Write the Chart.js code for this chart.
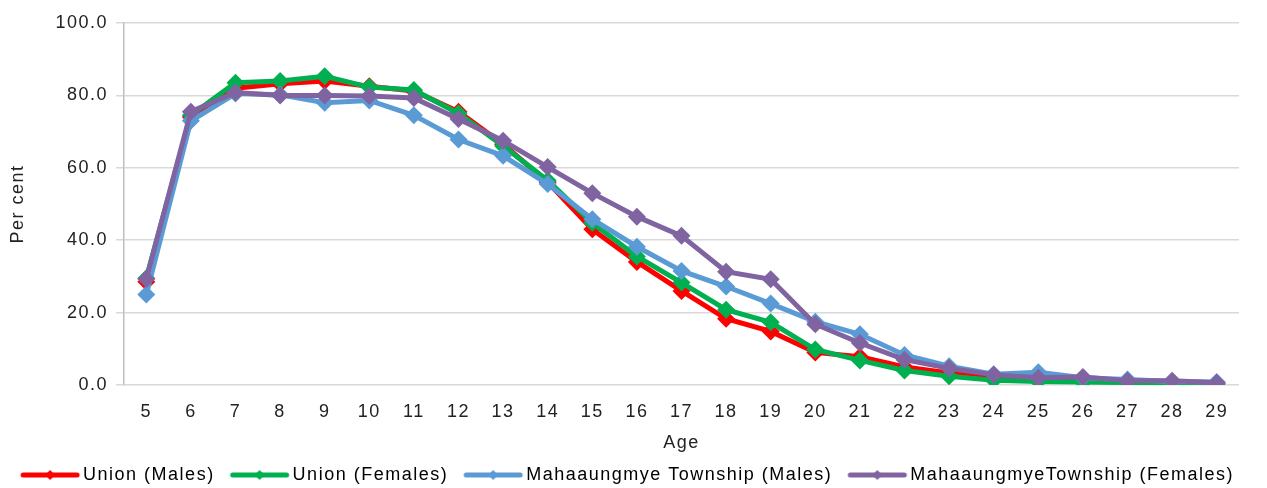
<!DOCTYPE html>
<html>
<head>
<meta charset="utf-8">
<script src="https://cdn.jsdelivr.net/npm/chart.js@4/dist/chart.umd.min.js"></script>
<style>
    html, body { margin: 0; padding: 0; background: #fff; }
    #wrap { width: 1267px; height: 488px; }
</style>
</head>
<body>
<div id="wrap"><canvas id="chart"></canvas></div>
<script>
const ages = ['5', '6', '7', '8', '9', '10', '11', '12', '13', '14', '15', '16', '17', '18', '19', '20', '21', '22', '23', '24', '25', '26', '27', '28', '29'];

const unionMales = [28.5, 74, 82, 83.2, 84, 82.5, 81.2, 75.5, 66.5, 56, 43, 34, 26, 18.3, 14.8, 9, 7.8, 5, 3.3, 2, 1.4, 1, 0.8, 0.6, 0.4];
const unionFemales = [29.5, 74.5, 83.5, 84, 85.3, 82.3, 81.5, 75, 66, 56.5, 44.8, 35.5, 28.3, 20.8, 17.3, 9.8, 6.8, 4, 2.4, 1.3, 1, 0.8, 0.7, 0.5, 0.3];
const townshipMales = [25, 73, 80.5, 80.2, 78, 78.6, 74.5, 67.8, 63.3, 55.5, 45.8, 38.2, 31.5, 27.2, 22.5, 17.5, 14, 8.3, 5.2, 3, 3.5, 2, 1.5, 1, 0.8];
const townshipFemales = [29.3, 75.5, 80.8, 80, 80, 79.8, 79.3, 73.5, 67.5, 60.2, 53, 46.5, 41.2, 31.3, 29.2, 16.8, 11.6, 7, 4.6, 2.8, 2, 2.2, 1.2, 1.2, 0.6];

const yTicks = [0, 20, 40, 60, 80, 100];

const seriesNames = ['Union (Males)', 'Union (Females)', 'Mahaaungmye Township (Males)', 'MahaaungmyeTownship (Females)'];
const seriesColors = ['#ff0000', '#00b050', '#5b9bd5', '#8064a2'];

const FONT = '"Liberation Sans", Arial, sans-serif';

// legend marker: a short line with a small diamond, shifted right so that
// the empty left part of the box acts as the gap between legend items
function legendSwatch(color) {
    const c = document.createElement('canvas');
    c.width = 83;
    c.height = 14;
    const ctx = c.getContext('2d');
    ctx.strokeStyle = color;
    ctx.lineWidth = 5;
    ctx.lineCap = 'round';
    ctx.beginPath();
    ctx.moveTo(25, 7);
    ctx.lineTo(79, 7);
    ctx.stroke();
    ctx.fillStyle = color;
    ctx.beginPath();
    ctx.moveTo(52, 2);
    ctx.lineTo(57, 7);
    ctx.lineTo(52, 12);
    ctx.lineTo(47, 7);
    ctx.closePath();
    ctx.fill();
    return c;
}

const swatches = seriesColors.map(legendSwatch);

function makeSeries(data, i) {
    return {
        label: seriesNames[i],
        data,
        borderColor: seriesColors[i],
        backgroundColor: seriesColors[i],
        borderWidth: 5,
        pointStyle: 'rectRot',
        pointRadius: 9,
        pointHoverRadius: 9,
        pointBorderWidth: 0,
        tension: 0,
        order: 3 - i,
    };
}

// loose letter spacing like the original office export
const spacing = {
    id: 'spacing',
    beforeInit(chart) { chart.ctx.letterSpacing = '1.5px'; },
    beforeUpdate(chart) { chart.ctx.letterSpacing = '1.5px'; },
    beforeDraw(chart) { chart.ctx.letterSpacing = '1.5px'; },
};

new Chart(document.getElementById('chart'), {
    type: 'line',
    data: {
        labels: ages,
        datasets: [unionMales, unionFemales, townshipMales, townshipFemales].map(makeSeries),
    },
    plugins: [spacing],
    options: {
        responsive: true,
        maintainAspectRatio: false,
        animation: false,
        layout: { padding: { top: 23, right: 28, left: 0, bottom: -6 } },
        plugins: {
            tooltip: { enabled: false },
            legend: {
                position: 'bottom',
                labels: {
                    usePointStyle: true,
                    pointStyleWidth: 69,
                    padding: 0,
                    color: '#222',
                    font: { family: FONT, size: 18 },
                    generateLabels: chart => chart.data.datasets.map((ds, i) => ({
                        text: ds.label,
                        pointStyle: swatches[i],
                        fillStyle: seriesColors[i],
                        strokeStyle: seriesColors[i],
                        lineWidth: 0,
                        hidden: false,
                        datasetIndex: i,
                    })),
                },
            },
        },
        scales: {
            x: {
                offset: true,
                grid: { display: false, drawTicks: false },
                border: { display: false },
                ticks: { color: '#222', font: { family: FONT, size: 18 }, padding: 16, maxRotation: 0, autoSkip: false },
                title: { display: true, text: 'Age', color: '#222', font: { family: FONT, size: 18 }, padding: { top: 4, bottom: 12 } },
                afterFit: scale => { scale.height = 81; },
            },
            y: {
                min: 0,
                max: 100,
                afterBuildTicks: scale => { scale.ticks = yTicks.map(value => ({ value })); },
                grid: { color: '#d9d9d9', lineWidth: 1.5, tickLength: 8 },
                border: { display: true, color: '#bfbfbf', width: 1.5 },
                ticks: { color: '#222', font: { family: FONT, size: 18 }, padding: 8, callback: v => Number(v).toFixed(1) },
                title: { display: true, text: 'Per cent', color: '#222', font: { family: FONT, size: 18 }, padding: { top: 7, bottom: 10 } },
                afterFit: scale => { scale.width = 124; },
            },
        },
    },
});
</script>
</body>
</html>
